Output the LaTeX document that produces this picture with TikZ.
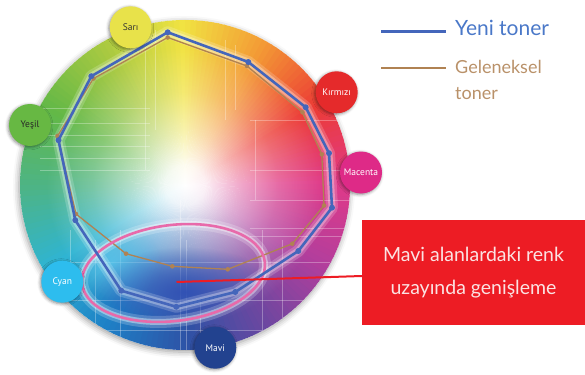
\documentclass[tikz,border=0pt]{standalone}
\usepackage{fontspec}
\setmainfont{Lato}
\newfontfamily\lblfont{PT Sans}
\usetikzlibrary{fadings,shadows.blur}

\definecolor{k0}{HTML}{E03A88}
\definecolor{k1}{HTML}{EC3B35}
\definecolor{k2}{HTML}{F39A35}
\definecolor{k3}{HTML}{F1E342}
\definecolor{k4}{HTML}{A8C941}
\definecolor{k5}{HTML}{63B847}
\definecolor{k6}{HTML}{4DB486}
\definecolor{k7}{HTML}{2FB4D2}
\definecolor{k8}{HTML}{1E80C6}
\definecolor{k9}{HTML}{2E52A6}
\definecolor{k10}{HTML}{6E47A0}
\definecolor{k11}{HTML}{B43E9C}
\definecolor{k12}{HTML}{E03A88}

\definecolor{tonerblue}{HTML}{4466BB}
\definecolor{tonerbrown}{HTML}{B08252}
\definecolor{legblue}{HTML}{4A78C8}
\definecolor{legtan}{HTML}{B99169}
\definecolor{boxred}{HTML}{ED1C24}
\definecolor{boxtext}{HTML}{FBE3E3}
\definecolor{ringpink}{HTML}{E86AAA}
\definecolor{patchblue}{HTML}{3050B4}
\definecolor{patchcyan}{HTML}{5CC8EE}
\definecolor{csari}{HTML}{E8E24A}
\definecolor{ckirmizi}{HTML}{E52A2B}
\definecolor{cmacenta}{HTML}{DE2A87}
\definecolor{cmavi}{HTML}{22428F}
\definecolor{ccyan}{HTML}{2DBDEE}
\definecolor{cyesil}{HTML}{67B843}

\pgfdeclareradialshading{wheelshade}{\pgfpointorigin}{%
  color(0bp)=(pgftransparent!0);
  color(3bp)=(pgftransparent!8);
  color(8bp)=(pgftransparent!42);
  color(14bp)=(pgftransparent!75);
  color(21bp)=(pgftransparent!100);
  color(50bp)=(pgftransparent!100)}
\pgfdeclarefading{wheelfade}{\pgfuseshading{wheelshade}}
\tikzfading[name=softspot, inner color=transparent!0, outer color=transparent!100]

\tikzset{
  lbl/.style={circle, minimum size=42pt, inner sep=0pt,
    font=\lblfont\fontsize{9.5}{10}\selectfont,
    blur shadow={shadow blur radius=3pt, shadow xshift=-1pt, shadow yshift=-1pt, shadow opacity=45}},
  newline/.style={tonerblue, line width=2.6pt, line join=round},
  oldline/.style={tonerbrown, line width=1.3pt, line join=round},
  texture/.style={white, opacity=0.3, line width=0.5pt},
  glow/.style={white, line join=round},
}

\begin{document}
\begin{tikzpicture}[x=1pt,y=-1pt]
\useasboundingbox (0,0) rectangle (585,374);
\coordinate (C) at (185,185);

% wheel with shadow
\fill[white, blur shadow={shadow blur radius=6pt, shadow xshift=-1pt, shadow yshift=-2pt, shadow opacity=40}] (C) circle[radius=165];
\foreach \i in {0,...,11} {
  \pgfmathtruncatemacro\ni{\i+1}
  \foreach \j in {0,...,14} {
    \pgfmathtruncatemacro\p{100-\j*100/15}
    \pgfmathsetmacro\a{\i*30+\j*2}
    \colorlet{wc}{k\i!\p!k\ni}
    \fill[wc] (C) -- ++(-\a:165) arc[start angle=-\a, end angle=-\a-2.4, radius=165] -- cycle;
  }
}
\fill[white, path fading=wheelfade] (C) circle[radius=165];

% texture
\begin{scope}
\clip (C) circle[radius=165];
\foreach \y in {108,123,135,146,158,170} \draw[texture] (40,\y) -- (150,\y);
\foreach \y in {120,170,200,228,236} \draw[texture] (250,\y) -- (350,\y);
\foreach \x/\ya/\yb in {145/40/170,155/30/130,225/40/120,235/45/110,180/200/355,186/240/355,200/300/355,255/120/200,262/230/340,282/240/320,320/280/330,70/230/300,95/240/330,120/230/340}
  \draw[texture] (\x,\ya) -- (\x,\yb);
\foreach \y in {262,300,330} \draw[texture] (60,\y) -- (330,\y);
\end{scope}

% blue patch inside ellipse
\begin{scope}
\clip (173.5,273) ellipse[x radius=92, y radius=48, rotate=7];
\fill[patchcyan, path fading=softspot, opacity=0.7] (112,262) ellipse[x radius=50, y radius=40];
\fill[patchblue, path fading=softspot, opacity=0.95] (185,292) ellipse[x radius=95, y radius=45];
\end{scope}

% polygons
\coordinate (b1) at (167.7,32.3);
\coordinate (b2) at (248.3,62);
\coordinate (b3) at (305.7,107.3);
\coordinate (b4) at (329,153.2);
\coordinate (b5) at (332,207.7);
\coordinate (b6) at (298.3,251);
\coordinate (b7) at (235.3,292);
\coordinate (b8) at (176.3,306.8);
\coordinate (b9) at (121.3,290.7);
\coordinate (b10) at (75.3,220.2);
\coordinate (b11) at (58.5,140.2);
\coordinate (b12) at (91.3,76.2);

\coordinate (g1) at (167.7,37.5);
\coordinate (g2) at (247,66);
\coordinate (g3) at (302.5,112.3);
\coordinate (g4) at (321.8,154.3);
\coordinate (g5) at (324,205.5);
\coordinate (g6) at (292.3,243.7);
\coordinate (g7) at (227.7,269.3);
\coordinate (g8) at (172.3,266.3);
\coordinate (g9) at (126,253.7);
\coordinate (g10) at (76,214);
\coordinate (g11) at (57.5,136);
\coordinate (g12) at (93.5,78.5);

% glows
\draw[glow, line width=12pt, opacity=0.18] (b1) -- (b2) -- (b3) -- (b4) -- (b5) -- (b6) -- (b7) -- (b8) -- (b9) -- (b10) -- (b11) -- (b12) -- cycle;
\draw[glow, line width=7pt, opacity=0.3] (b1) -- (b2) -- (b3) -- (b4) -- (b5) -- (b6) -- (b7) -- (b8) -- (b9) -- (b10) -- (b11) -- (b12) -- cycle;
\draw[white, line width=12pt, opacity=0.2] (173.5,273) ellipse[x radius=92, y radius=48, rotate=7];
\draw[white, line width=6pt, opacity=0.4] (173.5,273) ellipse[x radius=92, y radius=48, rotate=7];

\draw[oldline] (g1) -- (g2) -- (g3) -- (g4) -- (g5) -- (g6) -- (g7) -- (g8) -- (g9) -- (g10) -- (g11) -- (g12) -- cycle;
\foreach \k in {1,...,12} \fill[tonerbrown] (g\k) circle[radius=2.3];

\draw[ringpink, line width=2.6pt] (173.5,273) ellipse[x radius=92, y radius=48, rotate=7];

\draw[newline] (b1) -- (b2) -- (b3) -- (b4) -- (b5) -- (b6) -- (b7) -- (b8) -- (b9) -- (b10) -- (b11) -- (b12) -- cycle;
\foreach \k in {1,...,12} \fill[tonerblue] (b\k) circle[radius=3];

% labels
\node[lbl, fill=csari, text=black!80] (sari) at (130.7,27.3) {Sarı};
\node[lbl, fill=ckirmizi, text=white] (kirmizi) at (336.7,92.3) {Kırmızı};
\node[lbl, fill=cmacenta, text=white] (macenta) at (361,172.5) {Macenta};
\node[lbl, fill=cmavi, text=white] (mavi) at (215.3,347.7) {Mavi};
\node[lbl, fill=ccyan, text=white] (cyan) at (62.3,281.7) {Cyan};
\node[lbl, fill=cyesil, text=black!85] (yesil) at (30,125) {Yeşil};

% callout
\node[fill=boxred, minimum width=223pt, minimum height=105pt, inner sep=0pt,
  text=boxtext, align=center, font=\fontsize{19.5}{33}\selectfont] (box) at (473.5,272.5)
  {Mavi alanlardaki renk\\uzayında genişleme};
\coordinate (calloutStart) at (176.5,282);
\draw[boxred, line width=2pt] (calloutStart) -- ([yshift=-3.5pt]box.west);

% legend
\coordinate (legNewA) at (381,31.7);
\coordinate (legNewB) at (446,31.7);
\coordinate (legOldA) at (381,68.3);
\coordinate (legOldB) at (446,68.3);
\draw[tonerblue, line width=2.8pt] (legNewA) -- (legNewB);
\draw[tonerbrown, line width=2.4pt] (legOldA) -- (legOldB);
\node[anchor=base west, inner sep=0pt, text=legblue, font=\fontsize{21}{24}\selectfont] (legNew) at (455,36) {Yeni toner};
\node[anchor=base west, inner sep=0pt, text=legtan, font=\fontsize{18}{26}\selectfont, align=left] (legOld) at (455,100) {Geleneksel\\toner};
\end{tikzpicture}
\end{document}
